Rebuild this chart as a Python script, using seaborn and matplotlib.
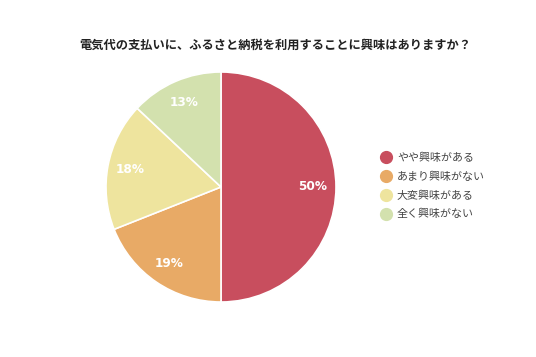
import matplotlib
matplotlib.use('Agg')
import matplotlib.pyplot as plt
from matplotlib.lines import Line2D
import seaborn as sns

categories = ['やや興味がある', 'あまり興味がない', '大変興味がある', '全く興味がない']
shares = [50, 19, 18, 13]
colors = ['#C84E5E', '#E8AA66', '#EEE49E', '#D3E1AE']
title = '電気代の支払いに、ふるさと納税を利用することに興味はありますか？'

sns.set_style('white')
plt.rcParams['font.family'] = ['Noto Sans CJK JP', 'DejaVu Sans']

fig = plt.figure(figsize=(5.36, 3.57), dpi=100)
fig.patch.set_facecolor('white')

# pie centred at about (221, 187) px, radius ~115 px
ax = fig.add_axes([106 / 536, (357 - 187 - 115) / 357, 230 / 536, 230 / 357])
palette = sns.color_palette(colors)
wedges, texts, autotexts = ax.pie(shares, colors=palette, startangle=90, counterclock=False,
                                  autopct='%d%%', pctdistance=0.8,
                                  wedgeprops=dict(edgecolor='white', linewidth=1.2))
for t in autotexts:
    t.set_color('white')
    t.set_fontsize(8.7)
    t.set_fontweight('bold')
    t.set_family(['DejaVu Sans'])
ax.set_xlim(-1, 1)
ax.set_ylim(-1, 1)
ax.set_aspect('equal')
ax.axis('off')

fig.text(275 / 536, 1 - 45 / 357, title, ha='center', va='center', fontsize=8.8,
         fontweight='bold', color='#222222')

handles = [Line2D([0], [0], marker='o', linestyle='', markersize=8.5,
                  markerfacecolor=c, markeredgecolor=c) for c in palette]
fig.legend(handles, categories, loc='center left', bbox_to_anchor=(370 / 536, 1 - 186 / 357),
           frameon=False, fontsize=7.9, labelcolor='#444444', handletextpad=0.35,
           labelspacing=0.75, handlelength=1.2)

fig.savefig('out.png', dpi=100, facecolor='white')
